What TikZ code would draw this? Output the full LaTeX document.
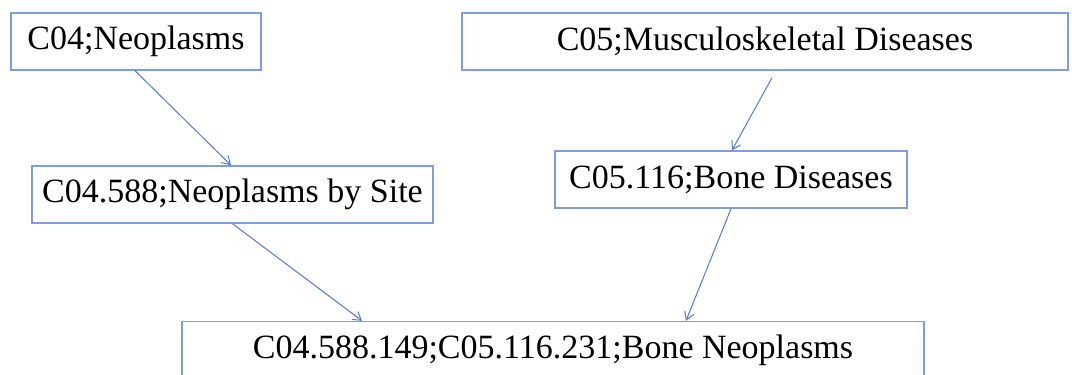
\documentclass[tikz,border=0pt]{standalone}
\usepackage{fontspec}
\setmainfont{Liberation Serif}
\usetikzlibrary{arrows.meta}
\definecolor{boxblue}{RGB}{128,156,222}
\definecolor{arrblue}{RGB}{84,120,220}
\tikzset{
  meshbox/.style={draw=boxblue, line width=1.4pt, fill=white, rectangle, inner sep=0pt,
    minimum height=57pt, font=\fontsize{34pt}{40pt}\selectfont, text=black},
  link/.style={draw=arrblue, line width=1pt, -{Straight Barb[length=8pt,width=10pt]}}
}
\begin{document}
\begin{tikzpicture}[x=1pt,y=-1pt]
\useasboundingbox (0,0) rectangle (1072,375);
\clip (0,0) rectangle (1072,375);
\fill[white] (0,0) rectangle (1072,375);
\node[meshbox, minimum width=250pt] (b1) at (136,41.5) {C04;Neoplasms};
\node[meshbox, minimum width=606pt] (b2) at (765,41.5) {C05;Musculoskeletal Diseases};
\node[meshbox, minimum width=401pt] (b3) at (232.5,194.5) {C04.588;Neoplasms by Site};
\node[meshbox, minimum width=352pt] (b4) at (731,179.5) {C05.116;Bone Diseases};
\node[meshbox, minimum width=742pt] (b5) at (553,350) {C04.588.149;C05.116.231;Bone Neoplasms};
\draw[link] ([xshift=-1pt]b1.south) -- ([xshift=-1.5pt]b3.north);
\draw[link] ([xshift=7pt,yshift=-7pt]b2.south) -- ([xshift=1pt]b4.north);
\draw[link] (b3.south) -- ([xshift=-191pt]b5.north);
\draw[link] (b4.south) -- ([xshift=133pt]b5.north);
\end{tikzpicture}
\end{document}
